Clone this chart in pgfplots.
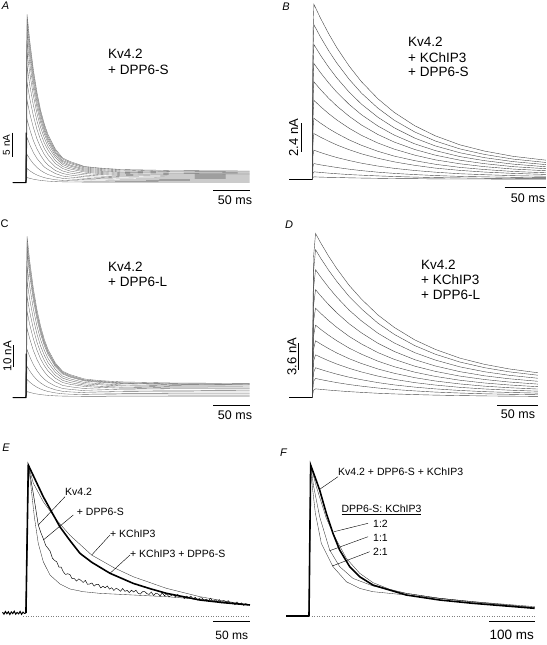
\documentclass[border=0pt]{standalone}
\usepackage{pgfplots}
\pgfplotsset{compat=1.18}
\usepackage{pgfplotstable}
\usepackage{fontspec}
\setmainfont{Liberation Sans}

% Panel A: Kv4.2 + DPP6-S (t in ms, current in nA)
\pgfplotstableread{
t a1 a2 a3 a4 a5 a6 a7 a8 a9 a10 a11 a12 a13 a14
-18 0 0 0 0 0 0 0 0 0 0 0 0 0 0
0 0 0 0 0 0 0 0 0 0 0 0 0 0 0
1.5 33.6 32.6 31.4 30.0 28.2 26.0 23.2 20.0 16.4 12.6 9.0 5.6 2.8 1.0
5 28.5 27.6 26.6 25.4 23.9 22.0 19.6 16.9 13.9 10.7 7.6 4.75 2.37 0.84
10 22.6 21.9 21.0 20.1 18.9 17.4 15.5 13.4 11.0 8.4 6.0 3.76 1.88 0.66
15 18.0 17.4 16.7 15.9 15.0 13.8 12.3 10.6 8.7 6.7 4.8 3.0 1.5 0.53
20 14.4 13.9 13.4 12.7 12.0 11.0 9.8 8.5 7.0 5.4 3.9 2.41 1.21 0.42
25 11.7 11.3 10.8 10.3 9.7 8.9 7.9 6.8 5.6 4.3 3.1 1.96 0.98 0.34
30 9.6 9.2 8.8 8.4 7.9 7.2 6.5 5.6 4.6 3.5 2.6 1.61 0.8 0.27
40 6.7 6.4 6.1 5.8 5.4 5.0 4.4 3.8 3.1 2.4 1.8 1.12 0.56 0.18
50 4.9 4.7 4.4 4.2 3.9 3.6 3.2 2.8 2.3 1.8 1.3 0.83 0.42 0.13
60 4.2 4.0 3.8 3.5 3.3 3.0 2.7 2.3 1.9 1.5 1.1 0.71 0.36 0.11
80 3.2 3.1 2.9 2.7 2.5 2.3 2.1 1.8 1.5 1.15 0.85 0.56 0.28 0.08
100 2.9 2.8 2.6 2.4 2.2 2.0 1.8 1.6 1.3 1.05 0.77 0.5 0.25 0.07
130 2.6 2.5 2.3 2.1 2.0 1.8 1.6 1.4 1.15 0.9 0.68 0.45 0.23 0.06
200 2.4 2.2 2.1 1.9 1.8 1.6 1.45 1.25 1.05 0.85 0.62 0.42 0.21 0.05
305 2.3 2.15 2.0 1.85 1.7 1.55 1.4 1.2 1.0 0.8 0.6 0.4 0.2 0.05
}\tabA

% Panel B: Kv4.2 + KChIP3 + DPP6-S
\pgfplotstableread{
t b1 b2 b3 b4 b5 b6 b7 b8 b9 b10 b11 b12
-28 0 0 0 0 0 0 0 0 0 0 0 0
0 0 0 0 0 0 0 0 0 0 0 0 0
1 12.4 11.0 9.56 8.22 6.92 5.61 4.34 3.26 2.07 1.13 0.54 0.19
2 14.6 12.9 11.25 9.67 8.14 6.6 5.1 3.83 2.44 1.33 0.64 0.22
10 13.45 11.88 10.36 8.91 7.50 6.08 4.70 3.53 2.25 1.22 0.59 0.20
20 12.15 10.73 9.36 8.05 6.77 5.49 4.24 3.19 2.03 1.11 0.53 0.18
30 10.98 9.70 8.46 7.27 6.12 4.96 3.84 2.88 1.83 1.00 0.48 0.17
45 9.45 8.35 7.28 6.26 5.27 4.27 3.30 2.48 1.58 0.86 0.41 0.14
60 8.15 7.20 6.28 5.40 4.54 3.68 2.85 2.14 1.36 0.74 0.36 0.12
80 6.73 5.95 5.19 4.46 3.75 3.04 2.35 1.77 1.12 0.61 0.30 0.10
100 5.59 4.94 4.31 3.70 3.12 2.53 1.95 1.47 0.93 0.51 0.25 0.08
125 4.48 3.96 3.45 2.97 2.50 2.03 1.57 1.18 0.75 0.41 0.20 0.07
150 3.64 3.21 2.80 2.41 2.03 1.64 1.27 0.95 0.61 0.33 0.16 0.05
180 2.89 2.55 2.23 1.91 1.61 1.31 1.01 0.76 0.48 0.26 0.13 0.04
210 2.37 2.09 1.82 1.57 1.32 1.07 0.83 0.62 0.40 0.22 0.10 0.04
245 1.93 1.70 1.49 1.28 1.07 0.87 0.67 0.51 0.32 0.18 0.08 0.03
285 1.61 1.42 1.24 1.06 0.90 0.73 0.56 0.42 0.27 0.15 0.07 0.02
}\tabB

% Panel C: Kv4.2 + DPP6-L
\pgfplotstableread{
t c1 c2 c3 c4 c5 c6 c7 c8 c9 c10 c11 c12 c13
-18 0 0 0 0 0 0 0 0 0 0 0 0 0
0 0 0 0 0 0 0 0 0 0 0 0 0 0
1.5 73.2 70.5 68.2 65.5 59.5 52.7 45.9 39.1 31.4 21.8 14.1 8.2 2.7
5 62.2 59.9 58.0 55.7 50.6 44.8 39.1 33.3 26.8 18.6 12.1 7.0 2.33
10 49.6 47.8 46.2 44.4 40.3 35.8 31.2 26.7 21.4 15.0 9.8 5.7 1.9
15 39.8 38.3 37.1 35.6 32.4 28.8 25.1 21.5 17.3 12.2 8.0 4.65 1.58
20 32.3 31.0 30.0 28.8 26.2 23.3 20.4 17.5 14.1 10.0 6.6 3.85 1.32
25 26.4 25.4 24.6 23.6 21.5 19.2 16.8 14.5 11.7 8.3 5.5 3.2 1.13
30 21.9 21.0 20.4 19.6 17.8 15.9 14.0 12.1 9.7 7.0 4.65 2.75 0.97
40 15.7 15.1 14.6 14.0 12.8 11.5 10.1 8.8 7.1 5.2 3.5 2.1 0.76
50 11.9 11.5 11.1 10.7 9.7 8.8 7.8 6.8 5.5 4.1 2.8 1.7 0.64
60 10.4 10.0 9.6 9.3 8.5 7.7 6.8 6.0 4.9 3.7 2.55 1.5 0.59
80 8.4 8.0 7.8 7.5 6.8 6.2 5.6 5.0 4.05 3.1 2.2 1.3 0.52
100 7.7 7.4 7.2 6.9 6.3 5.8 5.1 4.6 3.8 2.9 2.05 1.25 0.5
130 7.1 6.7 6.5 6.3 5.7 5.3 4.7 4.25 3.5 2.7 1.9 1.15 0.47
200 6.6 6.3 6.1 5.9 5.4 4.9 4.4 4.0 3.3 2.55 1.85 1.1 0.45
305 6.4 6.1 5.9 5.7 5.2 4.8 4.3 3.9 3.2 2.5 1.8 1.1 0.45
}\tabC

% Panel D: Kv4.2 + KChIP3 + DPP6-L
\pgfplotstableread{
t d1 d2 d3 d4 d5 d6 d7 d8 d9 d10 d11
-28 0 0 0 0 0 0 0 0 0 0 0
0 0 0 0 0 0 0 0 0 0 0 0
1.5 18.9 17.0 14.7 12.4 10.3 8.3 6.5 4.9 3.4 2.2 1.0
4 22.2 20.0 17.3 14.6 12.1 9.8 7.7 5.8 4.05 2.6 1.2
10 20.98 18.9 16.35 13.8 11.43 9.26 7.28 5.48 3.83 2.46 1.13
20 19.11 17.22 14.9 12.57 10.42 8.44 6.63 4.99 3.49 2.24 1.03
30 17.43 15.7 13.58 11.46 9.50 7.69 6.04 4.55 3.18 2.04 0.94
45 15.18 13.68 11.83 9.99 8.28 6.70 5.27 3.97 2.77 1.78 0.82
60 13.32 12.0 10.38 8.76 7.26 5.88 4.62 3.48 2.43 1.56 0.72
80 11.19 10.08 8.72 7.36 6.10 4.94 3.88 2.92 2.04 1.31 0.60
100 9.50 8.56 7.40 6.25 5.18 4.19 3.30 2.48 1.73 1.11 0.51
125 7.81 7.04 6.09 5.14 4.26 3.45 2.71 2.04 1.43 0.92 0.42
150 6.53 5.88 5.09 4.29 3.56 2.88 2.26 1.71 1.19 0.76 0.35
180 5.35 4.82 4.17 3.52 2.92 2.36 1.86 1.40 0.98 0.63 0.29
210 4.51 4.06 3.51 2.96 2.46 1.99 1.56 1.18 0.82 0.53 0.24
240 3.89 3.50 3.03 2.56 2.12 1.72 1.35 1.02 0.71 0.46 0.21
275 3.37 3.04 2.63 2.22 1.84 1.49 1.17 0.88 0.62 0.40 0.18
}\tabD

\pgfplotsset{
  panel/.style={hide axis, enlargelimits=false, clip=false, anchor=south west},
  trA/.style={black!58, line width=0.35pt},
  trB/.style={black!72, line width=0.4pt},
}
\newcommand\fs[1]{\fontsize{#1}{#1}\selectfont}

\begin{document}
\begin{tikzpicture}[font=\fs{10.5}]
\path[use as bounding box] (0,0) rectangle (546pt,-645pt);

% ---------- A ----------
\begin{axis}[panel, at={(12.8pt,-187.5pt)}, x=0.733pt, y=5pt,
  xmin=-18, xmax=305, ymin=-1, ymax=35]
\pgfplotsinvokeforeach{1,...,14}{\addplot[trA] table[x=t,y=a#1]{\tabA};}
\addplot[black, line width=1pt] coordinates {(-18,0) (0,0) (0.2,10)};
\end{axis}

% ---------- B ----------
\begin{axis}[panel, at={(289.3pt,-185.5pt)}, x=0.82pt, y=12pt,
  xmin=-28, xmax=285, ymin=-0.5, ymax=14.8]
\pgfplotsinvokeforeach{1,...,12}{\addplot[trB] table[x=t,y=b#1]{\tabB};}
\addplot[black, line width=1pt] coordinates {(-28,0) (0,0)};
\end{axis}

% ---------- C ----------
\begin{axis}[panel, at={(12.8pt,-401.9pt)}, x=0.733pt, y=2.2pt,
  xmin=-18, xmax=305, ymin=-2, ymax=75]
\pgfplotsinvokeforeach{1,...,13}{\addplot[trA] table[x=t,y=c#1]{\tabC};}
\addplot[black, line width=1pt] coordinates {(-18,0) (0,0) (0.2,20)};
\end{axis}

% ---------- D ----------
\begin{axis}[panel, at={(289.3pt,-401.4pt)}, x=0.82pt, y=7.4pt,
  xmin=-28, xmax=275, ymin=-0.5, ymax=23]
\pgfplotsinvokeforeach{1,...,11}{\addplot[trB] table[x=t,y=d#1]{\tabD};}
\addplot[black, line width=1pt] coordinates {(-28,0) (0,0)};
\end{axis}

% ---------- E (normalized) ----------
\begin{axis}[panel, at={(2.5pt,-623.55pt)}, x=0.733pt, y=151pt,
  xmin=-32, xmax=306, ymin=-0.05, ymax=1.05]
\addplot[black!50, dotted, line width=0.5pt] coordinates {(-4,0) (306,0)};
% pre-pulse baseline
\addplot[black, line width=1pt] coordinates {(-32,0.025) (-30,0.012) (-28,0.030) (-26,0.015) (-24,0.028) (-22,0.010) (-20,0.027) (-18,0.016) (-16,0.032) (-14,0.012) (-12,0.024) (-10,0.014) (-8,0.030) (-6,0.011) (-4,0.026) (-2,0.017) (0,0.020)};
% + DPP6-S
\addplot[black!80, line width=0.35pt] coordinates {(0,0.02) (3.2,1) (6.8,0.857) (11.4,0.658) (16.8,0.481) (23.6,0.360) (32.7,0.272) (46.4,0.212) (60,0.179) (78.2,0.161) (100.9,0.150) (146.4,0.139) (191.8,0.128) (237.3,0.110) (305.6,0.073)};
% + KChIP3
\addplot[black!80, line width=0.35pt] coordinates {(0,0.02) (3.2,1) (10,0.88) (23.6,0.757) (41.8,0.636) (60,0.535) (89.6,0.404) (120,0.32) (146.4,0.26) (191.8,0.183) (237.3,0.128) (270,0.1) (305.6,0.073)};
% Kv4.2 (noisy)
\addplot[black, line width=0.45pt] coordinates {(0,0.02) (3.2,1) (10,0.812) (16.8,0.603) (20,0.556) (24,0.508) (27,0.467) (30,0.449) (33,0.429) (36,0.384) (39,0.368) (42,0.359) (45,0.324) (48,0.324) (51,0.292) (54,0.275) (57,0.280) (60,0.274) (63,0.247) (66,0.248) (69,0.231) (72,0.246) (75,0.236) (78,0.222) (81,0.236) (84,0.210) (87,0.212) (90,0.219) (93,0.198) (96,0.210) (99,0.210) (102,0.186) (105,0.197) (108,0.187) (111,0.199) (114,0.178) (117,0.187) (120,0.169) (123,0.184) (126,0.176) (129,0.164) (132,0.182) (135,0.163) (138,0.170) (141,0.155) (144,0.171) (147,0.159) (150,0.171) (153,0.151) (156,0.145) (159,0.161) (162,0.162) (165,0.148) (168,0.143) (171,0.159) (174,0.136) (177,0.151) (180,0.147) (183,0.134) (186,0.153) (189,0.134) (192,0.147) (195,0.127) (198,0.135) (201,0.143) (204,0.126) (207,0.143) (210,0.125) (213,0.132) (216,0.116) (219,0.132) (222,0.121) (225,0.132) (228,0.112) (231,0.124) (234,0.105) (237,0.119) (240,0.121) (243,0.103) (246,0.112) (249,0.102) (252,0.118) (255,0.095) (258,0.108) (261,0.097) (264,0.108) (267,0.086) (270,0.103) (273,0.092) (276,0.102) (279,0.082) (282,0.091) (285,0.075) (288,0.093) (291,0.078) (294,0.087) (297,0.070) (300,0.083) (303,0.071)};
% + KChIP3 + DPP6-S (thick)
\addplot[black, line width=1.6pt] coordinates {(0,0.02) (3.2,1) (10,0.93) (23.6,0.79) (35,0.69) (46.4,0.59) (60,0.50) (73.7,0.415) (90,0.355) (114.6,0.283) (146.4,0.216) (170,0.18) (191.8,0.15) (237.3,0.106) (270,0.088) (305.6,0.073)};
\end{axis}

% ---------- F (normalized) ----------
\begin{axis}[panel, at={(286.15pt,-623.55pt)}, x=0.457pt, y=151pt,
  xmin=-50, xmax=494, ymin=-0.05, ymax=1.05]
\addplot[black!50, dotted, line width=0.5pt] coordinates {(0,0) (494,0)};
\addplot[black, line width=1.6pt] coordinates {(-50,0) (0,0)};
% 2:1
\addplot[black!80, line width=0.35pt] coordinates {(0,0) (3.6,1) (7.3,0.857) (13.9,0.680) (27,0.481) (52.5,0.327) (81.7,0.227) (110.9,0.183) (140,0.161) (176.5,0.150) (213,0.139) (285.9,0.117) (358.9,0.095) (493.8,0.055)};
% 1:1
\addplot[black!80, line width=0.35pt] coordinates {(0,0) (3.6,1) (10.2,0.857) (23.3,0.658) (45.2,0.437) (67.1,0.327) (96.3,0.249) (140,0.199) (176.5,0.172) (213,0.150) (285.9,0.117) (358.9,0.091) (493.8,0.057)};
% 1:2
\addplot[black!80, line width=0.35pt] coordinates {(0,0) (3.6,1) (16,0.857) (37.9,0.647) (56.2,0.525) (81.7,0.382) (110.9,0.283) (140,0.221) (176.5,0.177) (213,0.150) (285.9,0.117) (358.9,0.095) (493.8,0.062)};
% Kv4.2 + DPP6-S + KChIP3 (thick)
\addplot[black, line width=1.6pt] coordinates {(0,0) (3.6,1) (12,0.93) (23.3,0.834) (37.9,0.680) (52.5,0.547) (67.1,0.437) (89,0.327) (110.9,0.260) (140,0.205) (176.5,0.172) (213,0.139) (285.9,0.106) (358.9,0.084) (493.8,0.051)};
\end{axis}

% ---------- annotations (pixel coordinates, y downward) ----------
\begin{scope}[x=1pt, y=-1pt, every node/.style={inner sep=0pt}]
\tikzset{lbl/.style={anchor=west, font=\fs{13.5}}, elbl/.style={anchor=west, font=\fs{10.5}}}
% panel letters
\node[font=\fs{11}\itshape] at (5.5,5.5) {A};
\node[font=\fs{11}\itshape] at (286,6.3) {B};
\node[font=\fs{11}] at (4.5,224) {C};
\node[font=\fs{11}\itshape] at (289,224.5) {D};
\node[font=\fs{11}\itshape] at (6,448) {E};
\node[font=\fs{11}\itshape] at (283.5,453) {F};

% A
\node[lbl] at (108,53.3) {Kv4.2};
\node[lbl] at (108,70) {+ DPP6-S};
\draw[line width=0.5pt] (12.5,132.7) -- (12.5,157.3);
\node[rotate=90, font=\fs{10}] at (6.5,145) {5 nA};
\draw[line width=0.5pt] (213.3,190.7) -- (250,190.7);
\node[font=\fs{12.5}] at (235,199.7) {50 ms};

% B
\node[lbl] at (408,41.7) {Kv4.2};
\node[lbl] at (408,57.7) {+ KChIP3};
\node[lbl] at (408,72) {+ DPP6-S};
\draw[line width=0.5pt] (301.5,123.3) -- (301.5,151.7);
\node[rotate=90, font=\fs{13}] at (293.5,137.5) {2.4 nA};
\draw[line width=0.5pt] (504.7,187.7) -- (546,187.7);
\node[font=\fs{12.5}] at (528,198.3) {50 ms};

% C
\node[lbl] at (108,266.7) {Kv4.2};
\node[lbl] at (108,281.7) {+ DPP6-L};
\draw[line width=0.5pt] (13.3,345) -- (13.3,366.7);
\node[rotate=90, font=\fs{11.5}] at (7.3,356) {10 nA};
\draw[line width=0.5pt] (213.3,405.7) -- (250,405.7);
\node[font=\fs{12.5}] at (235,414.7) {50 ms};

% D
\node[lbl] at (421,265) {Kv4.2};
\node[lbl] at (421,280) {+ KChIP3};
\node[lbl] at (421,295) {+ DPP6-L};
\draw[line width=0.5pt] (298.3,343.3) -- (298.3,370);
\node[rotate=90, font=\fs{13}] at (292,356.7) {3.6 nA};
\draw[line width=0.5pt] (497,405.7) -- (538,405.7);
\node[font=\fs{12.5}] at (518,414.3) {50 ms};

% E
\node[elbl] at (65,491.7) {Kv4.2};
\node[elbl] at (76.7,511.7) {+ DPP6-S};
\node[elbl] at (110,533.3) {+ KChIP3};
\node[elbl] at (130,553.3) {+ KChIP3 + DPP6-S};
\draw[line width=0.4pt] (38.3,525) -- (65,496.7);
\draw[line width=0.4pt] (43.3,540) -- (73.3,515);
\draw[line width=0.4pt] (91.7,555) -- (110,535);
\draw[line width=0.4pt] (110,573.3) -- (130,555);
\draw[line width=0.5pt] (213.3,621.7) -- (250,621.7);
\node[font=\fs{12}] at (231.7,635) {50 ms};

% F
\node[elbl] at (338,471.7) {Kv4.2 + DPP6-S + KChIP3};
\node[elbl] at (341.3,510) {\underline{DPP6-S: KChIP3}};
\node[elbl] at (373,524) {1:2};
\node[elbl] at (373,538.3) {1:1};
\node[elbl] at (373,551.7) {2:1};
\draw[line width=0.4pt] (319.7,489.3) -- (338,476.7);
\draw[line width=0.4pt] (334,531.7) -- (368,523.3);
\draw[line width=0.4pt] (329.7,550.7) -- (368,536.7);
\draw[line width=0.4pt] (332.3,566) -- (369.7,551.7);
\draw[line width=0.5pt] (489,621.7) -- (534.7,621.7);
\node[font=\fs{13.5}] at (511.8,635) {100 ms};
\end{scope}
\end{tikzpicture}
\end{document}
